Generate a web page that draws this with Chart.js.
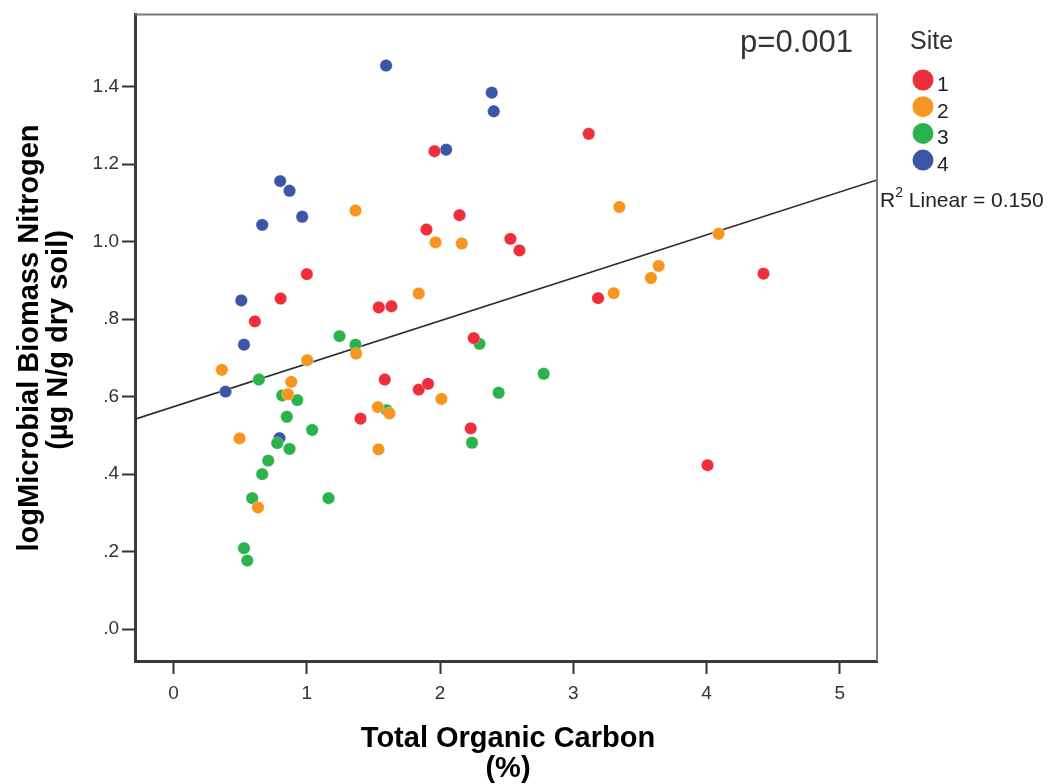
<!DOCTYPE html>
<html><head><meta charset="utf-8">
<script src="https://cdn.jsdelivr.net/npm/chart.js@4/dist/chart.umd.min.js"></script>
<style>html,body{margin:0;padding:0;background:#fff;} #wrap{width:1055px;height:784px;position:relative;}</style>
</head><body><div id="wrap"><canvas id="c"></canvas></div>
<script>
// ---- Data ----
const siteLabels = ['1', '2', '3', '4'];
const siteColors = ['#EE2E3B', '#F7961E', '#2BB24C', '#3B56A7'];

const site1X = [1.958, 1.898, 2.146, 2.528, 2.596, 1.000, 0.803, 1.540, 1.635, 0.610, 2.253, 3.116, 3.186, 4.428, 1.585, 1.840, 1.910, 1.403, 2.230, 4.008];
const site1Y = [1.233, 1.031, 1.068, 1.007, 0.977, 0.916, 0.853, 0.830, 0.833, 0.794, 0.751, 1.278, 0.854, 0.917, 0.644, 0.618, 0.633, 0.543, 0.518, 0.423];

const site2X = [1.365, 1.966, 2.163, 1.840, 3.346, 4.091, 3.641, 3.583, 3.303, 1.370, 0.362, 1.003, 0.883, 0.858, 0.495, 0.633, 2.010, 1.533, 1.620, 1.538];
const site2Y = [1.080, 0.998, 0.995, 0.866, 1.089, 1.020, 0.937, 0.906, 0.867, 0.711, 0.669, 0.694, 0.638, 0.606, 0.492, 0.314, 0.594, 0.573, 0.557, 0.464];

const site3X = [1.245, 2.296, 1.365, 0.640, 0.815, 0.928, 0.850, 1.040, 0.778, 0.870, 0.710, 0.665, 0.590, 1.163, 0.528, 0.553, 1.600, 2.240, 2.440, 2.778];
const site3Y = [0.756, 0.736, 0.734, 0.644, 0.603, 0.591, 0.548, 0.514, 0.480, 0.465, 0.435, 0.400, 0.338, 0.338, 0.209, 0.177, 0.565, 0.481, 0.610, 0.659];

const site4X = [1.595, 2.388, 2.403, 2.046, 0.800, 0.870, 0.665, 0.965, 0.508, 0.528, 0.390, 0.795];
const site4Y = [1.454, 1.384, 1.336, 1.237, 1.156, 1.131, 1.043, 1.064, 0.848, 0.734, 0.613, 0.493];

const xTicks = [0, 1, 2, 3, 4, 5];
const xTickLabels = ['0', '1', '2', '3', '4', '5'];
const yTicks = [0, 0.2, 0.4, 0.6, 0.8, 1.0, 1.2, 1.4];
const yTickLabels = ['.0', '.2', '.4', '.6', '.8', '1.0', '1.2', '1.4'];
const xRange = [-0.29, 5.28];
const yRange = [-0.082, 1.586];

const fitIntercept = 0.574;
const fitSlope = 0.1108;

const legendTitle = 'Site';
const pValueText = 'p=0.001';
const r2Label = 'R';
const r2Sup = '2';
const r2Rest = ' Linear = 0.150';
const xTitleLines = ['Total Organic Carbon', '(%)'];
const yTitleLines = ['logMicrobial Biomass Nitrogen', '(\u00B5g N/g dry soil)'];

// ---- Build datasets ----
const siteX = [site1X, site2X, site3X, site4X];
const siteY = [site1Y, site2Y, site3Y, site4Y];
const datasets = siteLabels.map((lab, i) => ({
  type: 'scatter',
  label: lab,
  data: siteX[i].map((x, j) => ({ x: x, y: siteY[i][j] })),
  backgroundColor: siteColors[i],
  borderColor: 'rgba(255,255,255,0.6)',
  borderWidth: 0.5,
  pointRadius: 6.2,
  pointHoverRadius: 6.2
}));
datasets.push({
  type: 'line',
  label: 'fit',
  data: xRange.map(x => ({ x: x, y: fitIntercept + fitSlope * x })),
  borderColor: '#2b2b2b',
  borderWidth: 1.6,
  pointRadius: 0,
  fill: false,
  order: 10
});

const FONT = '"Liberation Sans", Arial, sans-serif';

const decor = {
  id: 'decor',
  afterDraw(chart) {
    const ctx = chart.ctx;
    const a = chart.chartArea;
    ctx.save();
    // top & right frame
    ctx.strokeStyle = '#7a7a7a';
    ctx.lineWidth = 2;
    ctx.beginPath();
    ctx.moveTo(a.left, a.top);
    ctx.lineTo(a.right, a.top);
    ctx.lineTo(a.right, a.bottom);
    ctx.stroke();

    ctx.fillStyle = '#333';
    // p value
    ctx.font = '31px ' + FONT;
    ctx.textAlign = 'right';
    ctx.textBaseline = 'alphabetic';
    ctx.fillText(pValueText, a.right - 24, 52);

    // legend
    ctx.textAlign = 'left';
    ctx.font = '25px ' + FONT;
    ctx.fillText(legendTitle, 910, 49);
    ctx.font = '21px ' + FONT;
    siteLabels.forEach((lab, i) => {
      const cy = 80 + i * 26.7;
      ctx.beginPath();
      ctx.fillStyle = siteColors[i];
      ctx.arc(923, cy, 10.5, 0, Math.PI * 2);
      ctx.fill();
      ctx.fillStyle = '#222';
      ctx.fillText(lab, 937, cy + 11);
    });

    // R^2 label
    ctx.fillStyle = '#222';
    ctx.font = '21px ' + FONT;
    let x = 880;
    ctx.fillText(r2Label, x, 207);
    x += ctx.measureText(r2Label).width;
    ctx.font = '14px ' + FONT;
    ctx.fillText(r2Sup, x, 197);
    x += ctx.measureText(r2Sup).width;
    ctx.font = '21px ' + FONT;
    ctx.fillText(r2Rest, x, 207);

    // axis titles
    ctx.fillStyle = '#000';
    ctx.font = 'bold 29px ' + FONT;
    ctx.textAlign = 'center';
    const cx = (a.left + a.right) / 2 + 2;
    ctx.fillText(xTitleLines[0], cx, 747);
    ctx.fillText(xTitleLines[1], cx, 777);

    ctx.save();
    ctx.translate(38, 338);
    ctx.rotate(-Math.PI / 2);
    ctx.fillText(yTitleLines[0], 0, 0);
    ctx.restore();
    ctx.save();
    ctx.translate(67, 340);
    ctx.rotate(-Math.PI / 2);
    ctx.fillText(yTitleLines[1], 0, 0);
    ctx.restore();

    ctx.restore();
  }
};

new Chart(document.getElementById('c'), {
  data: { datasets },
  options: {
    responsive: true,
    maintainAspectRatio: false,
    animation: false,
    events: [],
    layout: { padding: { top: 13, right: 178, left: 0, bottom: 0 } },
    plugins: { legend: { display: false }, tooltip: { enabled: false } },
    scales: {
      x: {
        type: 'linear',
        min: xRange[0], max: xRange[1],
        afterBuildTicks: s => { s.ticks = xTicks.map(v => ({ value: v })); },
        afterFit: s => { s.height = 123; },
        ticks: {
          callback: (v) => xTickLabels[xTicks.indexOf(v)],
          font: { family: FONT, size: 19 },
          color: '#333',
          padding: 8,
          maxRotation: 0
        },
        grid: { display: true, drawOnChartArea: false, drawTicks: true, tickLength: 13, tickColor: '#333', tickWidth: 2 },
        border: { display: true, color: '#3a3a3a', width: 3 }
      },
      y: {
        type: 'linear',
        min: yRange[0], max: yRange[1],
        afterBuildTicks: s => { s.ticks = yTicks.map(v => ({ value: v })); },
        afterFit: s => { s.width = 135; },
        ticks: {
          callback: (v) => yTickLabels[yTicks.findIndex(t => Math.abs(t - v) < 1e-9)],
          font: { family: FONT, size: 19 },
          color: '#333',
          padding: 3
        },
        grid: { display: true, drawOnChartArea: false, drawTicks: true, tickLength: 13, tickColor: '#333', tickWidth: 2 },
        border: { display: true, color: '#3a3a3a', width: 3 }
      }
    }
  },
  plugins: [decor]
});
</script>
</body></html>
